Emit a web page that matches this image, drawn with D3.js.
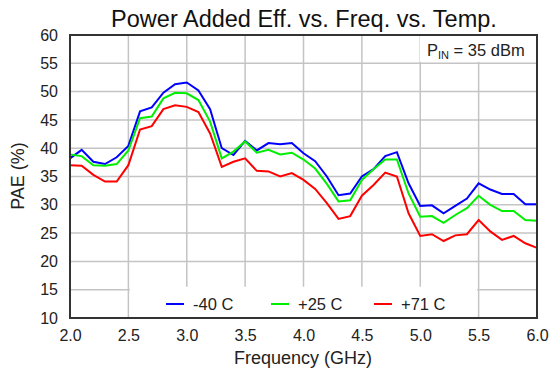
<!DOCTYPE html>
<html><head><meta charset="utf-8">
<script src="https://cdn.jsdelivr.net/npm/d3@7"></script>
<style>body{margin:0;background:#fff}svg{display:block;font-family:"Liberation Sans",Arial,sans-serif}</style>
</head><body>
<svg id="c" width="550" height="373"></svg>
<script>
const freq = [2.0,2.1,2.2,2.3,2.4,2.5,2.6,2.7,2.8,2.9,3.0,3.1,3.2,3.3,3.4,3.5,3.6,3.7,3.8,3.9,4.0,4.1,4.2,4.3,4.4,4.5,4.6,4.7,4.8,4.9,5.0,5.1,5.2,5.3,5.4,5.5,5.6,5.7,5.8,5.9,6.0];
const paeM40 = [38.2,39.7,37.6,37.2,38.4,40.4,46.5,47.2,49.8,51.3,51.6,50.2,46.9,40.0,38.8,41.3,39.6,40.9,40.7,40.9,39.1,37.7,35.0,31.7,32.0,35.0,36.3,38.6,39.3,33.8,29.8,29.9,28.5,29.8,31.1,33.8,32.7,31.9,31.9,30.1,30.1];
const paeP25 = [38.9,38.6,37.0,36.9,37.2,39.6,45.3,45.6,48.8,49.8,49.7,48.5,44.7,38.2,39.4,41.2,39.2,39.7,38.9,39.2,38.0,36.4,33.7,30.6,30.8,34.4,36.3,38.0,38.0,32.0,27.9,28.0,26.8,28.2,29.4,31.6,30.0,28.9,28.9,27.3,27.2];
const paeP71 = [37.0,36.9,35.3,34.1,34.1,37.0,43.3,43.9,46.9,47.6,47.3,46.4,42.6,36.7,37.6,38.2,36.0,35.9,35.0,35.6,34.4,32.8,30.3,27.5,28.0,31.6,33.5,35.7,35.0,28.5,24.5,24.8,23.6,24.6,24.8,27.3,25.3,23.8,24.5,23.2,22.4];
const seriesNames = ["-40 C","+25 C","+71 C"];
const seriesColors = ["#0000ff","#00ee00","#ff0000"];
const xTicks = [2.0,2.5,3.0,3.5,4.0,4.5,5.0,5.5,6.0];
const yTicks = [10,15,20,25,30,35,40,45,50,55,60];

const svg = d3.select("#c");
const L=70, R=537, T=35, B=318;
const x = d3.scaleLinear().domain([2,6]).range([L,R]);
const y = d3.scaleLinear().domain([10,60]).range([B,T]);

// title
svg.append("text").attr("x",304).attr("y",27).attr("text-anchor","middle")
  .attr("font-size",23.5).attr("fill","#111").text("Power Added Eff. vs. Freq. vs. Temp.");

// grid
const g = svg.append("g");
g.selectAll(".vg").data(xTicks.slice(1,-1)).join("line")
  .attr("x1",d=>x(d)).attr("x2",d=>x(d)).attr("y1",T).attr("y2",B)
  .attr("stroke","#c4c4c4").attr("stroke-width",1.5);
g.selectAll(".hg").data(yTicks.slice(1,-1)).join("line")
  .attr("x1",L).attr("x2",R).attr("y1",d=>y(d)).attr("y2",d=>y(d))
  .attr("stroke","#c4c4c4").attr("stroke-width",1.5);

// boxes covering grid
svg.append("rect").attr("x",x(2.5)+1.5).attr("y",y(15)-3).attr("width",x(5.5)-x(2.5)-3).attr("height",B-y(15)+3).attr("fill","#fff");
svg.append("rect").attr("x",420).attr("y",T).attr("width",R-420).attr("height",y(55)-T-1.5).attr("fill","#fff");

// axes tick labels
const xa = d3.axisBottom(x).tickValues(xTicks).tickFormat(d3.format(".1f")).tickSize(0).tickPadding(12);
const xg = svg.append("g").attr("transform",`translate(0,${B})`).call(xa);
const ya = d3.axisLeft(y).tickValues(yTicks).tickFormat(d3.format("d")).tickSize(0).tickPadding(12);
const yg = svg.append("g").attr("transform",`translate(${L},0)`).call(ya);
[xg,yg].forEach(a=>{a.select(".domain").remove();a.selectAll("text").attr("font-size",16).attr("fill","#222").attr("font-family","Liberation Sans, Arial, sans-serif");});

// lines
const allSeries=[paeM40,paeP25,paeP71];
const line = d3.line().x((d,i)=>x(freq[i])).y(d=>y(d));
svg.append("g").selectAll("path").data(allSeries).join("path")
  .attr("d",line).attr("fill","none").attr("stroke",(d,i)=>seriesColors[i])
  .attr("stroke-width",2).attr("stroke-linejoin","miter");

// frame
svg.append("rect").attr("x",L).attr("y",T).attr("width",R-L).attr("height",B-T)
  .attr("fill","none").attr("stroke","#333").attr("stroke-width",2);

// legend
const legX=[166,271,374];
const lg = svg.append("g").selectAll("g").data(seriesNames).join("g")
  .attr("transform",(d,i)=>`translate(${legX[i]},304)`);
lg.append("line").attr("x1",0).attr("x2",18).attr("stroke",(d,i)=>seriesColors[i]).attr("stroke-width",2);
lg.append("text").attr("x",27).attr("y",6).attr("font-size",16.5).attr("fill","#222").text(d=>d);

// PIN annotation
const pt = svg.append("text").attr("x",427).attr("y",56).attr("font-size",16.5).attr("fill","#222");
pt.append("tspan").text("P");
pt.append("tspan").attr("font-size",11).attr("dy",3).text("IN");
pt.append("tspan").attr("dy",-3).text(" = 35 dBm");

// axis titles
svg.append("text").attr("x",303).attr("y",364).attr("text-anchor","middle").attr("font-size",18).attr("fill","#222").text("Frequency (GHz)");
svg.append("text").attr("transform","translate(24,176) rotate(-90)").attr("text-anchor","middle").attr("font-size",18).attr("fill","#222").text("PAE (%)");
</script>
</body></html>
